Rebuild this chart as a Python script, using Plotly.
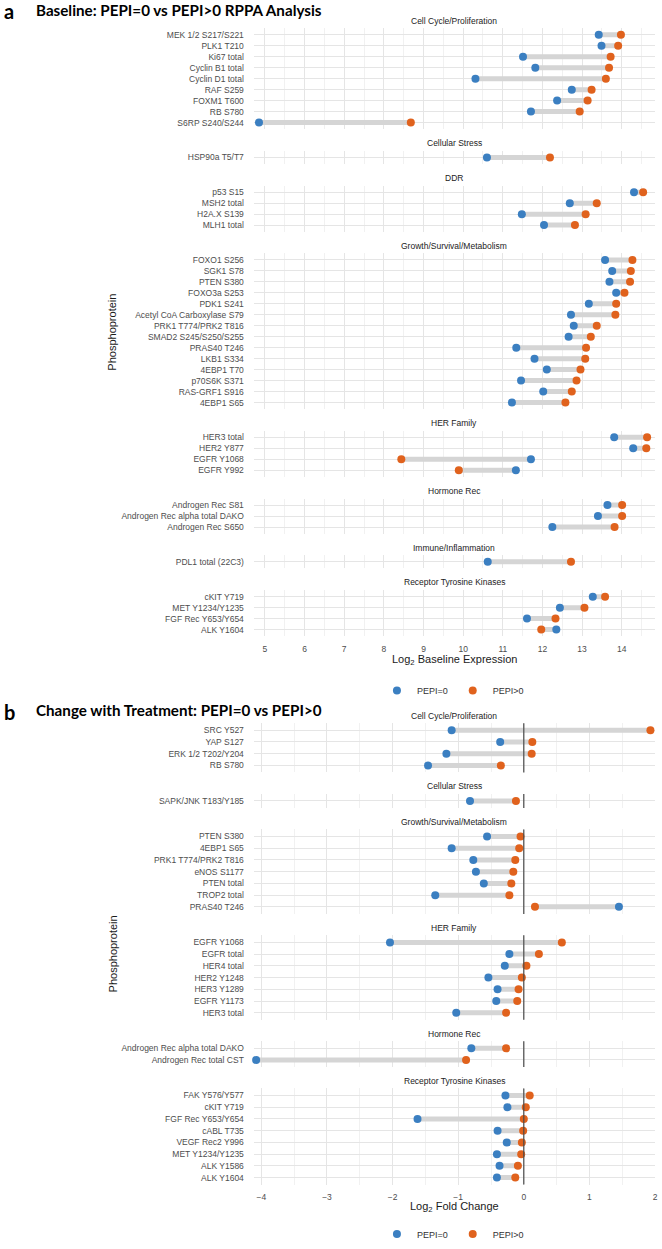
import plotly.graph_objects as go
from plotly.subplots import make_subplots

# ---------------- panel a : baseline expression (log2) ----------------
A_CELL_NAMES = ["MEK 1/2 S217/S221", "PLK1 T210", "Ki67 total", "Cyclin B1 total",
                "Cyclin D1 total", "RAF S259", "FOXM1 T600", "RB S780", "S6RP S240/S244"]
A_CELL_PEPI0 = [13.42, 13.49, 11.51, 11.82, 10.31, 12.74, 12.37, 11.71, 4.85]
A_CELL_PEPI1 = [13.98, 13.91, 13.72, 13.68, 13.60, 13.24, 13.14, 12.94, 8.68]

A_STRESS_NAMES = ["HSP90a T5/T7"]
A_STRESS_PEPI0 = [10.60]
A_STRESS_PEPI1 = [12.19]

A_DDR_NAMES = ["p53 S15", "MSH2 total", "H2A.X S139", "MLH1 total"]
A_DDR_PEPI0 = [14.31, 12.69, 11.48, 12.04]
A_DDR_PEPI1 = [14.54, 13.37, 13.09, 12.82]

A_GROWTH_NAMES = ["FOXO1 S256", "SGK1 S78", "PTEN S380", "FOXO3a S253", "PDK1 S241",
                  "Acetyl CoA Carboxylase S79", "PRK1 T774/PRK2 T816", "SMAD2 S245/S250/S255",
                  "PRAS40 T246", "LKB1 S334", "4EBP1 T70", "p70S6K S371", "RAS-GRF1 S916",
                  "4EBP1 S65"]
A_GROWTH_PEPI0 = [13.58, 13.76, 13.69, 13.86, 13.17, 12.72, 12.79, 12.66, 11.34, 11.80,
                  12.11, 11.46, 12.02, 11.23]
A_GROWTH_PEPI1 = [14.27, 14.23, 14.21, 14.07, 13.86, 13.84, 13.37, 13.22, 13.10, 13.08,
                  12.96, 12.86, 12.74, 12.58]

A_HER_NAMES = ["HER3 total", "HER2 Y877", "EGFR Y1068", "EGFR Y992"]
A_HER_PEPI0 = [13.81, 14.29, 11.71, 11.33]
A_HER_PEPI1 = [14.64, 14.62, 8.44, 9.89]

A_HORM_NAMES = ["Androgen Rec S81", "Androgen Rec alpha total DAKO", "Androgen Rec S650"]
A_HORM_PEPI0 = [13.64, 13.40, 12.25]
A_HORM_PEPI1 = [14.01, 14.01, 13.82]

A_IMM_NAMES = ["PDL1 total (22C3)"]
A_IMM_PEPI0 = [10.62]
A_IMM_PEPI1 = [12.72]

A_RTK_NAMES = ["cKIT Y719", "MET Y1234/Y1235", "FGF Rec Y653/Y654", "ALK Y1604"]
A_RTK_PEPI0 = [13.27, 12.44, 11.61, 12.35]
A_RTK_PEPI1 = [13.58, 13.06, 12.33, 11.97]

# ---------------- panel b : change with treatment (log2 FC) ----------------
B_CELL_NAMES = ["SRC Y527", "YAP S127", "ERK 1/2 T202/Y204", "RB S780"]
B_CELL_PEPI0 = [-1.10, -0.36, -1.18, -1.46]
B_CELL_PEPI1 = [1.93, 0.13, 0.12, -0.35]

B_STRESS_NAMES = ["SAPK/JNK T183/Y185"]
B_STRESS_PEPI0 = [-0.82]
B_STRESS_PEPI1 = [-0.12]

B_GROWTH_NAMES = ["PTEN S380", "4EBP1 S65", "PRK1 T774/PRK2 T816", "eNOS S1177",
                  "PTEN total", "TROP2 total", "PRAS40 T246"]
B_GROWTH_PEPI0 = [-0.56, -1.10, -0.77, -0.73, -0.61, -1.35, 1.45]
B_GROWTH_PEPI1 = [-0.05, -0.07, -0.13, -0.16, -0.19, -0.22, 0.17]

B_HER_NAMES = ["EGFR Y1068", "EGFR total", "HER4 total", "HER2 Y1248", "HER3 Y1289",
               "EGFR Y1173", "HER3 total"]
B_HER_PEPI0 = [-2.04, -0.22, -0.29, -0.54, -0.40, -0.42, -1.03]
B_HER_PEPI1 = [0.58, 0.23, 0.04, -0.03, -0.08, -0.10, -0.27]

B_HORM_NAMES = ["Androgen Rec alpha total DAKO", "Androgen Rec total CST"]
B_HORM_PEPI0 = [-0.80, -4.08]
B_HORM_PEPI1 = [-0.27, -0.88]

B_RTK_NAMES = ["FAK Y576/Y577", "cKIT Y719", "FGF Rec Y653/Y654", "cABL T735",
               "VEGF Rec2 Y996", "MET Y1234/Y1235", "ALK Y1586", "ALK Y1604"]
B_RTK_PEPI0 = [-0.28, -0.25, -1.62, -0.40, -0.26, -0.41, -0.37, -0.41]
B_RTK_PEPI1 = [0.09, 0.03, 0.00, -0.01, -0.03, -0.04, -0.09, -0.13]

facets_a = [
    ("Cell Cycle/Proliferation", A_CELL_NAMES, A_CELL_PEPI0, A_CELL_PEPI1),
    ("Cellular Stress", A_STRESS_NAMES, A_STRESS_PEPI0, A_STRESS_PEPI1),
    ("DDR", A_DDR_NAMES, A_DDR_PEPI0, A_DDR_PEPI1),
    ("Growth/Survival/Metabolism", A_GROWTH_NAMES, A_GROWTH_PEPI0, A_GROWTH_PEPI1),
    ("HER Family", A_HER_NAMES, A_HER_PEPI0, A_HER_PEPI1),
    ("Hormone Rec", A_HORM_NAMES, A_HORM_PEPI0, A_HORM_PEPI1),
    ("Immune/Inflammation", A_IMM_NAMES, A_IMM_PEPI0, A_IMM_PEPI1),
    ("Receptor Tyrosine Kinases", A_RTK_NAMES, A_RTK_PEPI0, A_RTK_PEPI1),
]
facets_b = [
    ("Cell Cycle/Proliferation", B_CELL_NAMES, B_CELL_PEPI0, B_CELL_PEPI1),
    ("Cellular Stress", B_STRESS_NAMES, B_STRESS_PEPI0, B_STRESS_PEPI1),
    ("Growth/Survival/Metabolism", B_GROWTH_NAMES, B_GROWTH_PEPI0, B_GROWTH_PEPI1),
    ("HER Family", B_HER_NAMES, B_HER_PEPI0, B_HER_PEPI1),
    ("Hormone Rec", B_HORM_NAMES, B_HORM_PEPI0, B_HORM_PEPI1),
    ("Receptor Tyrosine Kinases", B_RTK_NAMES, B_RTK_PEPI0, B_RTK_PEPI1),
]

W, H = 662, 1249
BLUE, ORANGE, SEG = "#3b7fc1", "#e0621d", "#d5d5d5"
FONT = "Liberation Sans, Arial, sans-serif"
TITLE_FONT = "Lato, sans-serif"
PLOT_L, PLOT_R = 255, 658
MID_X = (PLOT_L + PLOT_R) / 2 / W


def py(p):
    return 1 - p / H


panels = [
    dict(facets=facets_a, top=28.4, row_h=11.04, gap=21.8, xrange=[4.72, 14.84],
         xtitle="Log<sub>2</sub> Baseline Expression", xtitle_y=664, legend="legend",
         zero=False, letter="a", title="Baseline: PEPI=0 vs PEPI>0 RPPA Analysis", title_y=10),
    dict(facets=facets_b, top=727.9, row_h=11.8, gap=21.6, xrange=[-4.115, 2.0],
         xtitle="Log<sub>2</sub> Fold Change", xtitle_y=1215, legend="legend2",
         zero=True, letter="b", title="Change with Treatment: PEPI=0 vs PEPI>0", title_y=715),
]

n_rows = len(facets_a) + len(facets_b)
fig = make_subplots(rows=n_rows, cols=1)

k = 0
for p in panels:
    y = p["top"]
    p_top = y
    for j, (title, names, v0, v1) in enumerate(p["facets"]):
        k += 1
        h = (len(names) + 0.2) * p["row_h"]
        y0, y1 = y, y + h
        y = y1 + p["gap"]

        sx, sy = [], []
        for nm, a, b in zip(names, v0, v1):
            sx += [a, b, None]
            sy += [nm, nm, None]
        fig.add_trace(go.Scatter(x=sx, y=sy, mode="lines", line=dict(color=SEG, width=5),
                                 showlegend=False, hoverinfo="skip", cliponaxis=False),
                      row=k, col=1)
        if p["zero"]:
            fig.add_vline(x=0, line=dict(color="#4a4a4a", width=1.2), layer="above", row=k, col=1)
        fig.add_trace(go.Scatter(x=v0, y=names, mode="markers", name="PEPI=0",
                                 marker=dict(color=BLUE, size=8), legend=p["legend"],
                                 legendgroup=p["legend"] + "0", showlegend=(j == 0),
                                 cliponaxis=False), row=k, col=1)
        fig.add_trace(go.Scatter(x=v1, y=names, mode="markers", name="PEPI>0",
                                 marker=dict(color=ORANGE, size=8), legend=p["legend"],
                                 legendgroup=p["legend"] + "1", showlegend=(j == 0),
                                 cliponaxis=False), row=k, col=1)

        last = j == len(p["facets"]) - 1
        xa = "xaxis" if k == 1 else f"xaxis{k}"
        ya = "yaxis" if k == 1 else f"yaxis{k}"
        fig.layout[xa].update(
            domain=[PLOT_L / W, PLOT_R / W], range=p["xrange"], tick0=0, dtick=1,
            showgrid=True, gridcolor="#e5e5e5", gridwidth=1,
            minor=dict(dtick=0.5, showgrid=True, gridcolor="#f1f1f1", gridwidth=0.8),
            zeroline=False, showline=False, ticks="", showticklabels=last,
            tickfont=dict(family=FONT, size=8.5, color="#4d4d4d"), ticklabelstandoff=6,
        )
        fig.layout[ya].update(
            domain=[py(y1), py(y0)], type="category", categoryorder="array",
            categoryarray=names[::-1], range=[-0.6, len(names) - 0.4],
            showgrid=True, gridcolor="#e5e5e5", gridwidth=1, zeroline=False,
            showline=False, ticks="", ticklabelstandoff=9,
            tickfont=dict(family=FONT, size=8.5, color="#4d4d4d"),
        )
        fig.add_annotation(text=title, x=MID_X, y=py(y0 - 7.7), xref="paper", yref="paper",
                           showarrow=False, xanchor="center", yanchor="middle",
                           font=dict(family=FONT, size=8.5, color="#222222"))
    p_bot = y - p["gap"]

    fig.add_annotation(text="Phosphoprotein", textangle=-90, x=113 / W, y=py((p_top + p_bot) / 2),
                       xref="paper", yref="paper", showarrow=False, xanchor="center",
                       yanchor="middle", font=dict(family=FONT, size=11, color="#1a1a1a"))
    fig.add_annotation(text=p["xtitle"], x=MID_X, y=py(p["xtitle_y"]), xref="paper", yref="paper",
                       showarrow=False, xanchor="center", yanchor="middle",
                       font=dict(family=FONT, size=11, color="#1a1a1a"))
    fig.add_annotation(text="<b>" + p["letter"] + "</b>", x=2 / W, y=py(p["title_y"] + 1.5),
                       xref="paper", yref="paper", showarrow=False, xanchor="left",
                       yanchor="middle", font=dict(family=TITLE_FONT, size=20, color="#000000"))
    fig.add_annotation(text="<b>" + p["title"] + "</b>", x=34 / W, y=py(p["title_y"]),
                       xref="paper", yref="paper", showarrow=False, xanchor="left",
                       yanchor="middle", font=dict(family=TITLE_FONT, size=15.2, color="#000000"))

leg = dict(orientation="h", xanchor="center", x=455 / W, yanchor="middle",
           font=dict(family=FONT, size=9, color="#333333"), bgcolor="rgba(0,0,0,0)",
           itemwidth=30, tracegroupgap=0)

fig.update_layout(
    width=W, height=H,
    margin=dict(l=0, r=0, t=0, b=0),
    plot_bgcolor="white", paper_bgcolor="white",
    showlegend=True,
    legend=dict(leg, y=py(695)),
    legend2=dict(leg, y=py(1242)),
)

# drop the default page margin so the 662x1249 figure fills the window exactly
fig.write_html("out.html", config={"displayModeBar": False},
               post_script="document.body.style.margin='0px';")
